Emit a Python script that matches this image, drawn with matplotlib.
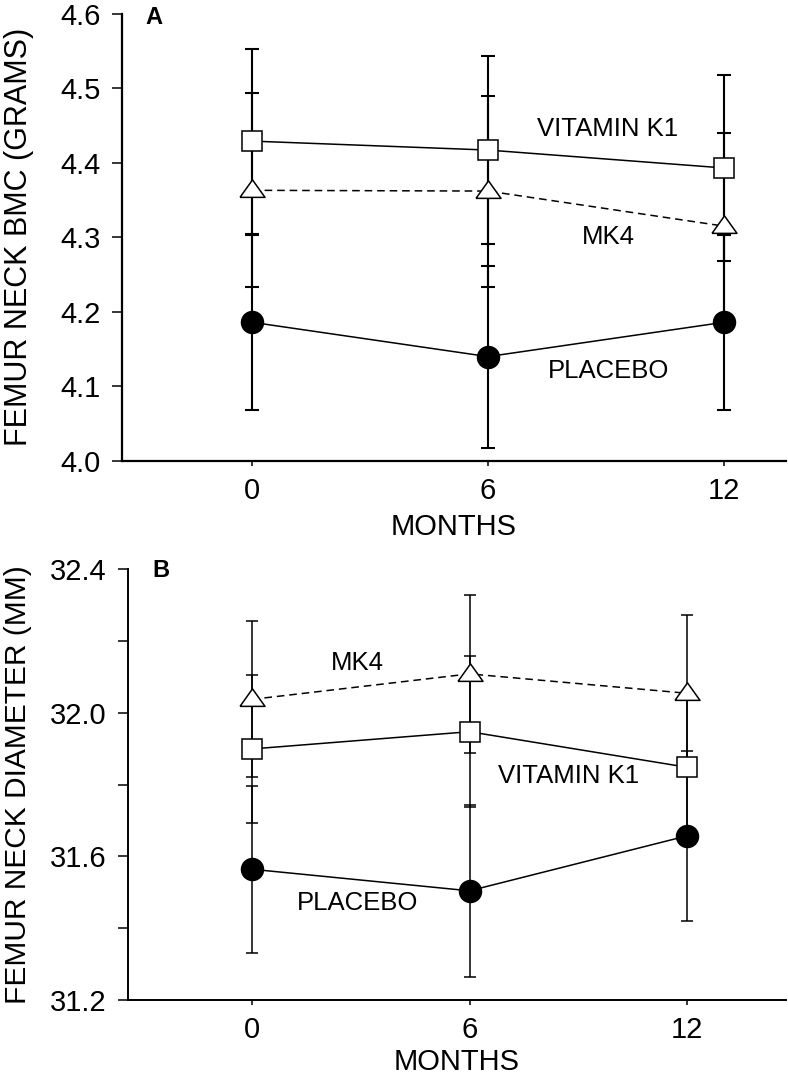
import matplotlib
matplotlib.use("Agg")
import matplotlib.pyplot as plt
from matplotlib.ticker import FixedLocator

plt.rcParams['font.family'] = ['Liberation Sans', 'DejaVu Sans']
plt.rcParams['lines.scale_dashes'] = False

# ---------------- data ----------------
months = [0, 6, 12]

# Panel A: femur neck BMC (grams)
bmc_k1 = [4.429, 4.417, 4.393]
bmc_k1_err = [0.124, 0.126, 0.125]
bmc_mk4 = [4.363, 4.362, 4.315]
bmc_mk4_err = [0.130, 0.128, 0.125]
bmc_placebo = [4.186, 4.140, 4.186]
bmc_placebo_err = [0.117, 0.122, 0.117]

# Panel B: femur neck diameter (mm)
diam_k1 = [31.899, 31.947, 31.848]
diam_k1_err = [0.205, 0.210, 0.210]
diam_mk4 = [32.037, 32.108, 32.054]
diam_mk4_err = [0.217, 0.220, 0.218]
diam_placebo = [31.564, 31.504, 31.657]
diam_placebo_err = [0.232, 0.239, 0.237]

x_ticks = [0, 6, 12]
bmc_yticks = [4.0, 4.1, 4.2, 4.3, 4.4, 4.5, 4.6]
diam_yticks = [31.2, 31.6, 32.0, 32.4]
diam_yminor = [31.4, 31.8, 32.2]

# ---------------- figure ----------------
W, H = 788, 1075
fig = plt.figure(figsize=(W / 100, H / 100), dpi=100)

def px_axes(left, top, right, bottom):
    return fig.add_axes([left / W, 1 - bottom / H, (right - left) / W, (bottom - top) / H])

axA = px_axes(122, 13.6, 786, 461)
axB = px_axes(128, 569, 786, 1000)

tri = [(-1, -0.55), (1, -0.55), (0, 0.85), (-1, -0.55)]


def draw_series(ax, y, err, marker, mfc, ls, elw, cap, ms):
    ax.errorbar(months, y, yerr=err, fmt='none', ecolor='black', elinewidth=elw,
                capsize=cap, capthick=elw, zorder=1)
    if ls == 'dashed':
        ax.plot(months, y, color='black', lw=1.1, linestyle=(0, (5.5, 3.5)), zorder=2)
    else:
        ax.plot(months, y, color='black', lw=1.1, zorder=2)
    ax.plot(months, y, linestyle='none', marker=marker, markersize=ms,
            markerfacecolor=mfc, markeredgecolor='black', markeredgewidth=1.1, zorder=3)


def style(ax, lw):
    for s in ['top', 'right']:
        ax.spines[s].set_visible(False)
    for s in ['left', 'bottom']:
        ax.spines[s].set_linewidth(lw)
    ax.tick_params(axis='y', which='both', direction='out', length=7.2, width=1.1,
                   pad=8, labelsize=21)
    ax.tick_params(axis='x', direction='out', length=3.6, width=1.1, pad=8, labelsize=21)
    ax.set_xticks(x_ticks)
    ax.set_xticklabels([str(t) for t in x_ticks])


# Panel A
for y, e, mk, mfc, ls in [(bmc_k1, bmc_k1_err, 's', 'white', 'solid'),
                          (bmc_mk4, bmc_mk4_err, tri, 'white', 'dashed'),
                          (bmc_placebo, bmc_placebo_err, 'o', 'black', 'solid')]:
    ms = 18.0 if mk is tri else (15.0 if mk == 's' else 15.8)
    draw_series(axA, y, e, mk, mfc, ls, 1.5, 5, ms)
style(axA, 1.6)
axA.set_xlim(-3.31, 13.58)
axA.set_ylim(4.0, 4.6)
axA.set_yticks(bmc_yticks)
axA.set_yticklabels([f"{t:.1f}" for t in bmc_yticks])
axA.set_xlabel("MONTHS", fontsize=21, labelpad=6)
axA.set_ylabel("FEMUR NECK BMC (GRAMS)", fontsize=22, va='center', ha='center')
axA.yaxis.set_label_coords(-0.155, 0.5)
axA.text(9.03, 4.445, "VITAMIN K1", fontsize=18.5, ha='center', va='center')
axA.text(9.05, 4.301, "MK4", fontsize=18.5, ha='center', va='center')
axA.text(9.06, 4.121, "PLACEBO", fontsize=18.5, ha='center', va='center')
fig.text(145 / W, 1 - 6 / H, "A", fontsize=17, fontweight='bold', ha='left', va='top')

# Panel B
for y, e, mk, mfc, ls in [(diam_k1, diam_k1_err, 's', 'white', 'solid'),
                          (diam_mk4, diam_mk4_err, tri, 'white', 'dashed'),
                          (diam_placebo, diam_placebo_err, 'o', 'black', 'solid')]:
    ms = 18.0 if mk is tri else (15.0 if mk == 's' else 15.8)
    draw_series(axB, y, e, mk, mfc, ls, 1.1, 4, ms)
style(axB, 1.4)
axB.set_xlim(-3.42, 14.73)
axB.set_ylim(31.2, 32.4)
axB.set_yticks(diam_yticks)
axB.set_yticklabels([f"{t:.1f}" for t in diam_yticks])
axB.yaxis.set_minor_locator(FixedLocator(diam_yminor))
axB.set_xlabel("MONTHS", fontsize=21, labelpad=2.5)
axB.set_ylabel("FEMUR NECK DIAMETER (MM)", fontsize=21.5, va='center', ha='center')
axB.yaxis.set_label_coords(-0.167, 0.5)
axB.text(2.91, 32.137, "MK4", fontsize=18.5, ha='center', va='center')
axB.text(8.74, 31.825, "VITAMIN K1", fontsize=18.5, ha='center', va='center')
axB.text(2.91, 31.470, "PLACEBO", fontsize=18.5, ha='center', va='center')
fig.text(152 / W, 1 - 559 / H, "B", fontsize=17, fontweight='bold', ha='left', va='top')

fig.savefig("out.png", dpi=100)
